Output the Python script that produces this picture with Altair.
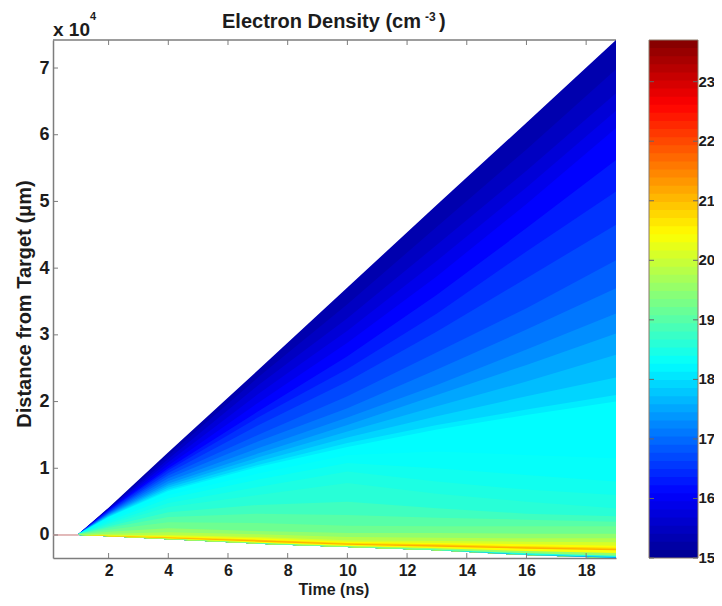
import altair as alt
import pandas as pd

TIMES = [1, 2, 4, 7, 10, 13, 16, 19]
EDGE = [0.0, -0.02, -0.065, -0.13, -0.18, -0.23, -0.30, -0.345]
# (density level, distance of the top of that band, in units of 1e4 um, at each of TIMES)
BANDS = [
    (15.3, [0.02, 0.41, 1.24, 2.47, 3.71, 4.95, 6.18, 7.42]),
    (15.5, [0.02, 0.40, 1.19, 2.36, 3.46, 4.62, 5.78, 6.98]),
    (15.7, [0.02, 0.39, 1.14, 2.24, 3.25, 4.35, 5.46, 6.62]),
    (15.9, [0.02, 0.385, 1.09, 2.11, 3.06, 4.11, 5.21, 6.36]),
    (16.1, [0.02, 0.38, 1.04, 1.98, 2.88, 3.88, 4.96, 6.10]),
    (16.3, [0.02, 0.37, 1.00, 1.85, 2.68, 3.60, 4.60, 5.62]),
    (16.5, [0.02, 0.36, 0.97, 1.76, 2.49, 3.32, 4.25, 5.15]),
    (16.7, [0.02, 0.345, 0.93, 1.64, 2.30, 3.05, 3.85, 4.65]),
    (16.9, [0.02, 0.335, 0.89, 1.50, 2.08, 2.74, 3.40, 4.12]),
    (17.1, [0.02, 0.325, 0.85, 1.40, 1.90, 2.48, 3.08, 3.70]),
    (17.3, [0.02, 0.315, 0.81, 1.30, 1.76, 2.25, 2.78, 3.32]),
    (17.5, [0.02, 0.305, 0.77, 1.22, 1.65, 2.10, 2.55, 3.02]),
    (17.7, [0.02, 0.295, 0.74, 1.16, 1.55, 1.93, 2.30, 2.70]),
    (17.9, [0.02, 0.285, 0.71, 1.10, 1.46, 1.78, 2.08, 2.36]),
    (18.1, [0.02, 0.275, 0.68, 1.05, 1.38, 1.65, 1.88, 2.10]),
    (18.25, [0.02, 0.27, 0.66, 1.02, 1.32, 1.58, 1.80, 2.00]),
    (18.3, [0.02, 0.24, 0.60, 0.92, 1.20, 1.25, 1.20, 1.15]),
    (18.4, [0.02, 0.21, 0.55, 0.83, 1.08, 1.00, 0.90, 0.80]),
    (18.5, [0.02, 0.18, 0.48, 0.72, 0.95, 0.80, 0.68, 0.60]),
    (18.6, [0.02, 0.16, 0.42, 0.60, 0.78, 0.62, 0.50, 0.40]),
    (18.8, [0.02, 0.13, 0.34, 0.45, 0.50, 0.40, 0.32, 0.28]),
    (19.0, [0.02, 0.11, 0.27, 0.32, 0.30, 0.26, 0.23, 0.20]),
    (19.2, [0.02, 0.08, 0.19, 0.18, 0.14, 0.13, 0.13, 0.13]),
    (19.5, [0.01, 0.05, 0.10, 0.06, 0.03, 0.03, 0.02, 0.02]),
    (19.8, [0.00, 0.02, 0.04, 0.01, -0.03, -0.04, -0.05, -0.05]),
    (20.1, [0.00, 0.00, 0.00, -0.03, -0.08, -0.09, -0.10, -0.11]),
    (20.4, [0.00, -0.01, -0.02, -0.05, -0.10, -0.12, -0.14, -0.16]),
    (20.8, [0.00, -0.01, -0.03, -0.07, -0.12, -0.14, -0.17, -0.19]),
    (21.1, [0.00, -0.015, -0.04, -0.08, -0.13, -0.155, -0.185, -0.21]),
    (20.4, [0.00, -0.018, -0.05, -0.10, -0.145, -0.175, -0.205, -0.23]),
    (19.5, [0.00, -0.02, -0.055, -0.115, -0.165, -0.20, -0.24, -0.27]),
    (18.5, [0.00, -0.02, -0.06, -0.125, -0.175, -0.22, -0.275, -0.31]),
    (17.4, [0.00, -0.02, -0.065, -0.13, -0.18, -0.23, -0.295, -0.33]),
]
XTICKS = [2, 4, 6, 8, 10, 12, 14, 16, 18]
YTICKS = [0, 1, 2, 3, 4, 5, 6, 7]
CBAR_TICKS = [15, 16, 17, 18, 19, 20, 21, 22, 23]
CBAR_MIN, CBAR_MAX = 15.0, 23.7
CBAR_STEPS = 64
PRE_T = [0.137, 1.0]
PRE_D = [0.0, 0.0]

JET_STOPS = [15.0, 16.09, 18.26, 20.44, 22.61, 23.7]
JET_COLORS = ["#00008f", "#0000ff", "#00ffff", "#ffff00", "#ff0000", "#800000"]

W, H = 563, 518
FONT = "Liberation Sans"
INK = "#1c1c1c"
AXIS_GRAY = "#7d7d7d"

rows = []
for b, (lev, tops) in enumerate(BANDS):
    for t, d, e in zip(TIMES, tops, EDGE):
        rows.append({"band": b, "level": lev, "t": t, "d": d, "edge": e})
df = pd.DataFrame(rows)

color_scale = alt.Scale(domain=JET_STOPS, range=JET_COLORS, interpolate="rgb")
x_scale = alt.Scale(domain=[0.137, 19.0], nice=False, zero=False)
y_scale = alt.Scale(domain=[-0.345, 7.42], nice=False, zero=False)
x_enc = alt.X("t:Q", scale=x_scale, title=None,
              axis=alt.Axis(values=XTICKS, tickSize=0, grid=False, labelPadding=4, domainColor=AXIS_GRAY,
                            domainWidth=1.5, labelFont=FONT, labelFontWeight="bold", labelFontSize=16,
                            labelColor=INK, format="d"))
y_enc = alt.Y("d:Q", scale=y_scale, title=None,
              axis=alt.Axis(values=YTICKS, tickSize=0, grid=False, labelPadding=4, domainColor=AXIS_GRAY,
                            domainWidth=1.5, labelFont=FONT, labelFontWeight="bold", labelFontSize=18,
                            labelColor=INK, format="d"))

areas = alt.Chart(df).mark_area(interpolate="linear", strokeWidth=0).encode(
    x=x_enc, y=y_enc, y2="edge:Q",
    color=alt.Color("level:Q", scale=color_scale, legend=None),
    detail="band:N",
)
pre = alt.Chart(pd.DataFrame({"t": PRE_T, "d": PRE_D})).mark_line(color="#d9a3a3", strokeWidth=1.5).encode(
    x=alt.X("t:Q", scale=x_scale), y=alt.Y("d:Q", scale=y_scale))
xt = pd.DataFrame({"t": XTICKS})
yt = pd.DataFrame({"d": YTICKS})
tick_style = dict(color=AXIS_GRAY, strokeWidth=1)
xt_bottom = alt.Chart(xt).mark_rule(**tick_style).encode(
    x=alt.X("t:Q", scale=x_scale), y=alt.value(H), y2=alt.value(H - 5))
xt_top = alt.Chart(xt).mark_rule(**tick_style).encode(
    x=alt.X("t:Q", scale=x_scale), y=alt.value(0), y2=alt.value(5))
yt_left = alt.Chart(yt).mark_rule(**tick_style).encode(
    y=alt.Y("d:Q", scale=y_scale), x=alt.value(0), x2=alt.value(5))
top_line = alt.Chart(pd.DataFrame({"a": [0]})).mark_rule(color=AXIS_GRAY, strokeWidth=1.5).encode(
    x=alt.value(0), x2=alt.value(W), y=alt.value(0))


def label(text, x, y, size=20, **kw):
    return alt.Chart(pd.DataFrame({"a": [0]})).mark_text(
        text=text, font=FONT, fontWeight="bold", fontSize=size, color=INK, **kw
    ).encode(x=alt.value(x), y=alt.value(y))


texts = [
    label("Electron Density (cm", 169, -18, 20, align="left", baseline="middle"),
    label("-3", 372, -23, 12, align="left", baseline="middle"),
    label(")", 386, -18, 20, align="left", baseline="middle"),
    label("x 10", 0, -10, 19, align="left", baseline="middle"),
    label("4", 37, -23, 11, align="left", baseline="middle"),
    label("Time (ns)", 281, 550, 16, align="center", baseline="middle"),
    label("Distance from Target (μm)", -28, 264, 20, align="center", baseline="middle", angle=270),
]
main = alt.layer(top_line, areas, pre, xt_bottom, xt_top, yt_left, *texts)

# colour bar, on a y scale of its own
CB_L, CB_R = 596, 645
cb_scale = alt.Scale(domain=[CBAR_MIN, CBAR_MAX], nice=False, zero=False)
step = (CBAR_MAX - CBAR_MIN) / CBAR_STEPS
cb_df = pd.DataFrame({"lo": [CBAR_MIN + i * step for i in range(CBAR_STEPS)]})
cb_df["hi"] = CBAR_MAX
cb_df["mid"] = cb_df["lo"] + step / 2
cb_y = alt.Y("lo:Q", scale=cb_scale, axis=None)
cbar = alt.Chart(cb_df).mark_rect(strokeWidth=0).encode(
    x=alt.value(CB_L), x2=alt.value(CB_R), y=cb_y, y2="hi:Q",
    color=alt.Color("mid:Q", scale=color_scale, legend=None),
    order="lo:Q")
frame = alt.Chart(pd.DataFrame({"lo": [CBAR_MIN], "hi": [CBAR_MAX]})).mark_rect(
    fillOpacity=0, stroke="#8a7a6a", strokeWidth=1).encode(
    x=alt.value(CB_L), x2=alt.value(CB_R), y=cb_y, y2="hi:Q")
cbt = pd.DataFrame({"lo": CBAR_TICKS})
cbt["txt"] = cbt["lo"].astype(str)
cb_t1 = alt.Chart(cbt).mark_rule(color="#666", strokeWidth=1).encode(
    y=cb_y, x=alt.value(CB_L), x2=alt.value(CB_L + 5))
cb_t2 = alt.Chart(cbt).mark_rule(color="#666", strokeWidth=1).encode(
    y=cb_y, x=alt.value(CB_R - 5), x2=alt.value(CB_R))
cb_lab = alt.Chart(cbt).mark_text(
    font=FONT, fontWeight="bold", fontSize=15, color=INK, align="left", baseline="middle").encode(
    y=cb_y, x=alt.value(CB_R + 0.5), text="txt:N")
bar = alt.layer(cbar, frame, cb_t1, cb_t2, cb_lab)

chart = alt.layer(main, bar).resolve_scale(y="independent", x="independent").properties(
    width=W, height=H,
    autosize=alt.AutoSizeParams(type="none", contains="content"),
    padding={"left": 45, "top": 32, "right": 98, "bottom": 40},
    background="white",
).configure_view(stroke=None)

chart.save("out.html", embed_options={"renderer": "svg", "actions": False})
